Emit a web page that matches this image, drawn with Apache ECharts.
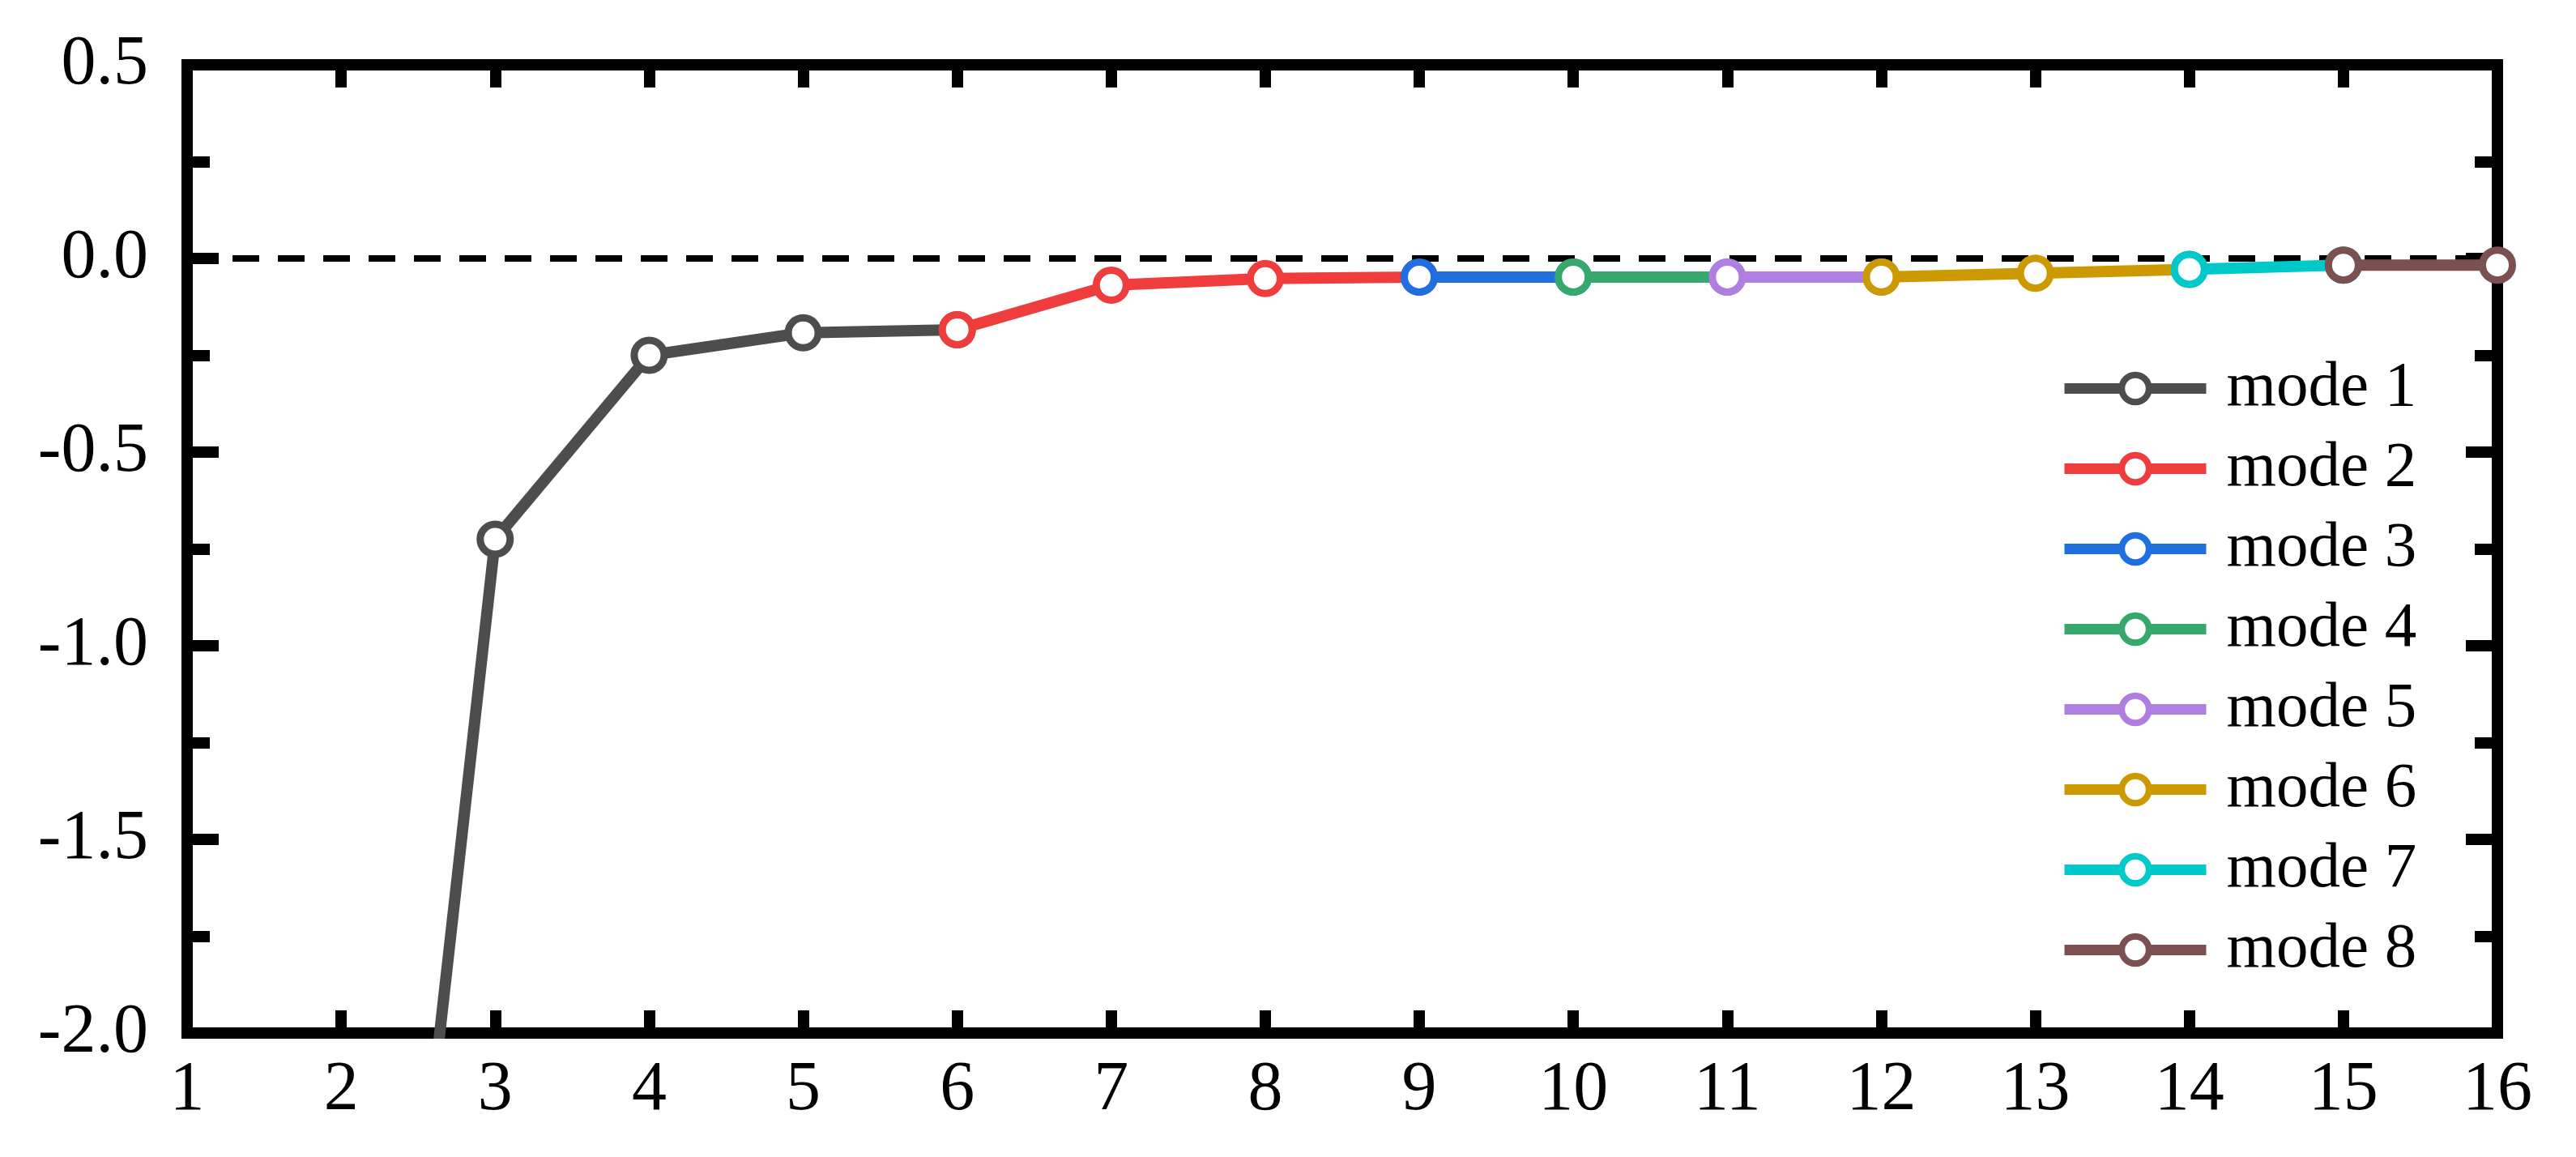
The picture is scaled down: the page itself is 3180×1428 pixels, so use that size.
<!DOCTYPE html>
<html>
<head>
<meta charset="utf-8">
<script src="https://cdn.jsdelivr.net/npm/echarts@6/dist/echarts.min.js"></script>
<style>
  html, body { margin: 0; padding: 0; background: #fff; }
  #chart { width: 3180px; height: 1428px; }
</style>
</head>
<body>
<div id="chart"></div>
<script>
// x ticks and y ticks of the frame
const xTicks = [1, 2, 3, 4, 5, 6, 7, 8, 9, 10, 11, 12, 13, 14, 15, 16]
const yTicks = [-2.0, -1.5, -1.0, -0.5, 0.0, 0.5]

// each mode is drawn over its own step range, sharing the end point with the next one
const modeNames = ['mode 1', 'mode 2', 'mode 3', 'mode 4', 'mode 5', 'mode 6', 'mode 7', 'mode 8']
const modeColors = ['#4d4d4d', '#ef3d3d', '#1f6fe0', '#37a86b', '#b07ee0', '#cc9a00', '#00c9c9', '#7b5050']
const mode1 = [[2, -4.27], [3, -0.725], [4, -0.25], [5, -0.192], [6, -0.184]]
const mode2 = [[6, -0.184], [7, -0.069], [8, -0.052], [9, -0.048]]
const mode3 = [[9, -0.048], [10, -0.048]]
const mode4 = [[10, -0.048], [11, -0.048]]
const mode5 = [[11, -0.048], [12, -0.048]]
const mode6 = [[12, -0.048], [13, -0.038], [14, -0.028]]
const mode7 = [[14, -0.028], [15, -0.017]]
const mode8 = [[15, -0.017], [16, -0.017]]
const modeData = [mode1, mode2, mode3, mode4, mode5, mode6, mode7, mode8]

const font = 'Liberation Serif'

function frameX(pos) {
  return {
    type: 'value',
    position: pos,
    min: xTicks[0],
    max: xTicks[xTicks.length - 1],
    interval: 1,
    axisLine: { show: true, onZero: false, lineStyle: { color: '#000', width: 14, cap: 'square' } },
    axisTick: { show: true, inside: true, length: 28, lineStyle: { color: '#000', width: 14 } },
    axisLabel: {
      show: pos === 'bottom',
      margin: 28,
      color: '#000',
      fontFamily: font,
      fontSize: 86
    },
    splitLine: { show: false }
  }
}

function frameY(pos) {
  return {
    type: 'value',
    position: pos,
    min: yTicks[0],
    max: yTicks[yTicks.length - 1],
    interval: 0.5,
    axisLine: { show: true, onZero: false, lineStyle: { color: '#000', width: 14, cap: 'square' } },
    axisTick: { show: true, inside: true, length: 39, lineStyle: { color: '#000', width: 14 } },
    minorTick: { show: true, splitNumber: 2, length: 28, lineStyle: { color: '#000', width: 14 } },
    axisLabel: {
      show: pos === 'left',
      margin: 48,
      color: '#000',
      fontFamily: font,
      fontSize: 86,
      formatter: v => v.toFixed(1)
    },
    splitLine: { show: false }
  }
}

const series = modeData.map((d, i) => ({
  name: modeNames[i],
  type: 'line',
  data: d,
  z: 3 + i,
  symbol: 'circle',
  symbolSize: 37,
  clip: true,
  lineStyle: { color: modeColors[i], width: 14 },
  itemStyle: { color: '#fff', borderColor: modeColors[i], borderWidth: 9 },
  emphasis: { disabled: true }
}))

// dashed zero line on top
series.push({
  name: 'zero',
  type: 'line',
  data: [],
  z: 20,
  markLine: {
    silent: true,
    symbol: ['none', 'none'],
    label: { show: false },
    lineStyle: { color: '#000', width: 8, type: [33, 23] },
    data: [{ yAxis: 0 }]
  }
})

const myChart = echarts.init(document.getElementById('chart'))
myChart.setOption({
  backgroundColor: '#fff',
  animation: false,
  grid: { left: 231, right: 97, top: 80, bottom: 153 },
  xAxis: [frameX('bottom'), frameX('top')],
  yAxis: [frameY('left'), frameY('right')],
  legend: {
    data: modeNames,
    orient: 'vertical',
    left: 2537,
    top: 435,
    itemWidth: 175,
    itemHeight: 42,
    itemGap: 20,
    lineStyle: { width: 13 },
    itemStyle: { borderWidth: 8 },
    textStyle: {
      fontFamily: font,
      fontSize: 79,
      lineHeight: 79,
      color: '#000',
      padding: [0, 0, 0, 20]
    }
  },
  series: series
})
</script>
</body>
</html>
